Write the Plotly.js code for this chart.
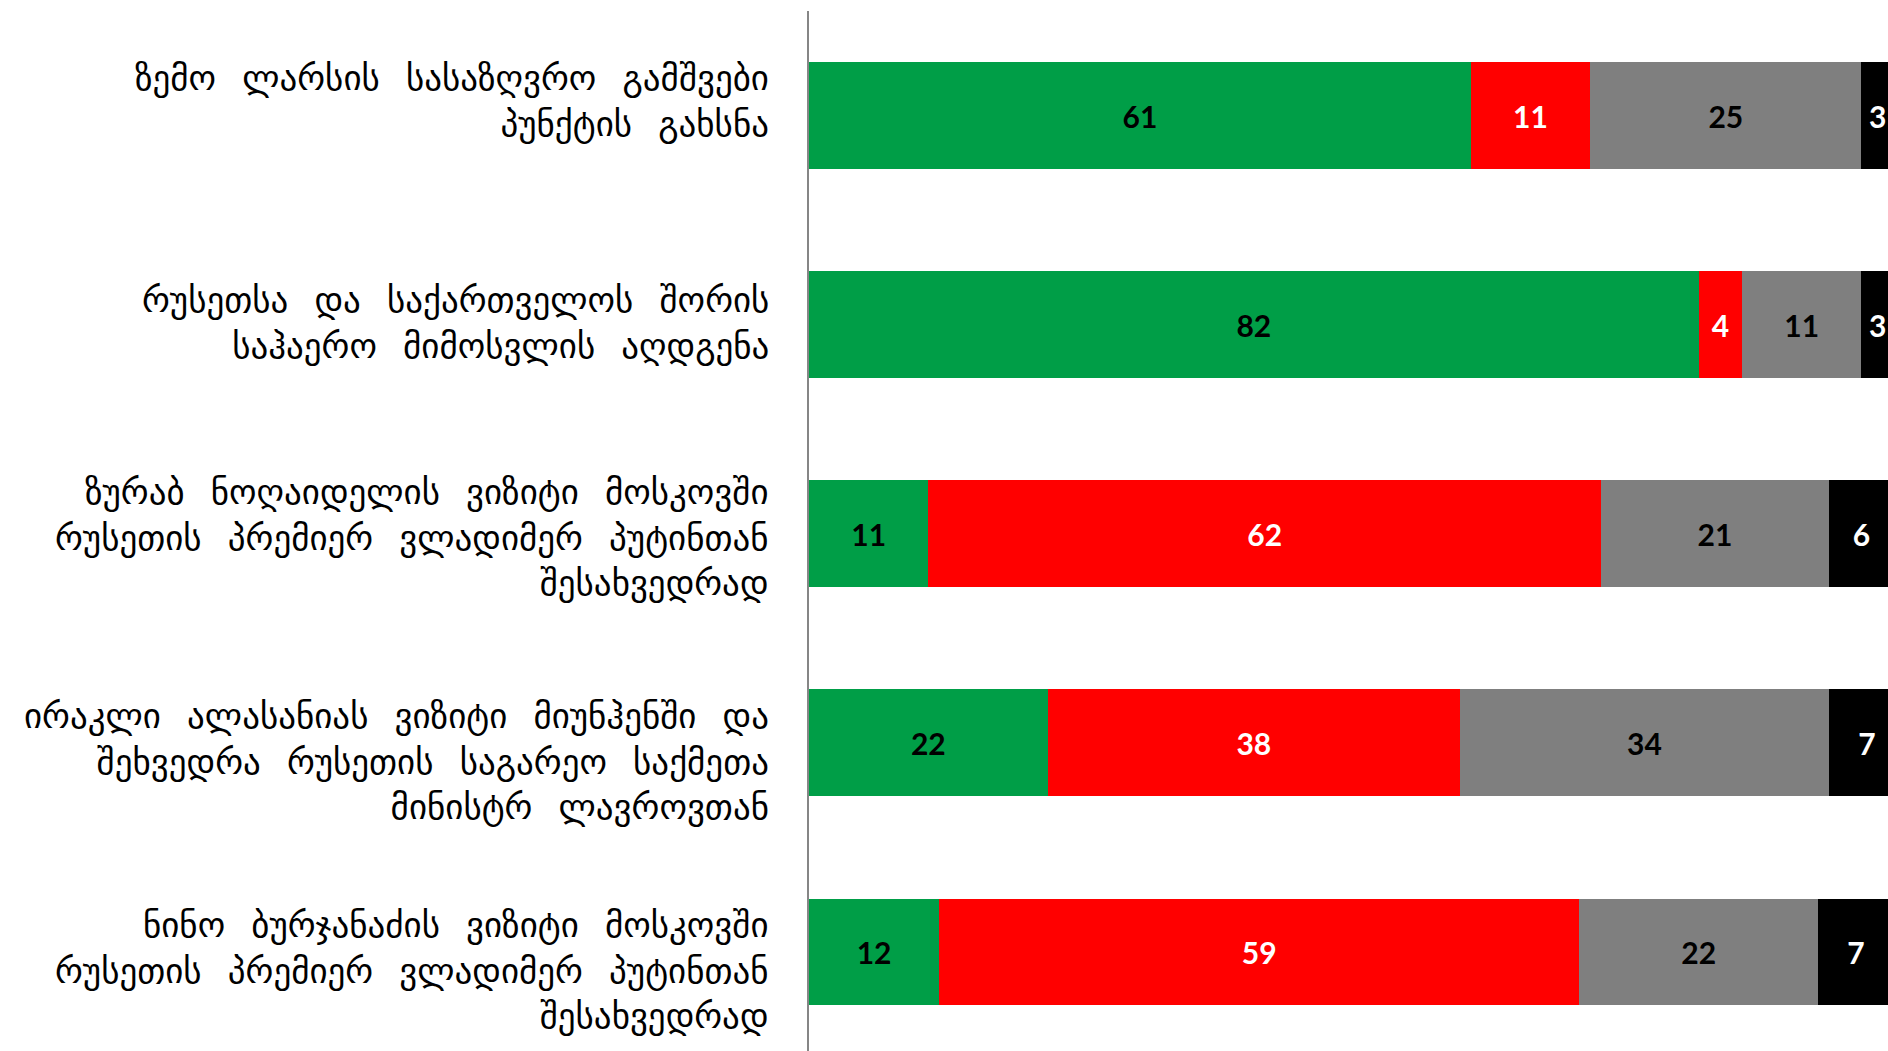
<!DOCTYPE html>
<html>
<head>
<meta charset="utf-8">
<script src="https://cdn.plot.ly/plotly-3.0.1.min.js"></script>
<style>
html,body{margin:0;padding:0;background:#fff;}
#chart{width:1888px;height:1051px;}
#chart .annotation-text{word-spacing:15px;}
</style>
</head>
<body>
<div id="chart"></div>
<script>
var categories = [
  "ზემო ლარსის სასაზღვრო გამშვები<br>პუნქტის გახსნა",
  "რუსეთსა და საქართველოს შორის<br>საჰაერო მიმოსვლის აღდგენა",
  "ზურაბ ნოღაიდელის ვიზიტი მოსკოვში<br>რუსეთის პრემიერ ვლადიმერ პუტინთან<br>შესახვედრად",
  "ირაკლი ალასანიას ვიზიტი მიუნჰენში და<br>შეხვედრა რუსეთის საგარეო საქმეთა<br>მინისტრ ლავროვთან",
  "ნინო ბურჯანაძის ვიზიტი მოსკოვში<br>რუსეთის პრემიერ ვლადიმერ პუტინთან<br>შესახვედრად"
];
var greenValues = [61, 82, 11, 22, 12];
var redValues   = [11, 4, 62, 38, 59];
var grayValues  = [25, 11, 21, 34, 22];
var blackValues = [3, 3, 6, 7, 7];

// label vertical nudges (px, layout only)
var labelShift = [15, 2, -4, -19, -19];

function mk(vals, color, txtColor) {
  return {
    type: 'bar', orientation: 'h',
    y: categories, x: vals,
    text: vals.map(String),
    textposition: 'inside',
    insidetextanchor: 'middle',
    textangle: 0,
    constraintext: 'none',
    textfont: {family: 'Lato, "Open Sans", sans-serif', size: 30, color: txtColor, weight: 'bold'},
    marker: {color: color, line: {width: 0}},
    hoverinfo: 'skip',
    cliponaxis: true
  };
}

var data = [
  mk(greenValues, '#009e47', '#000000'),
  mk(redValues, '#ff0000', '#ffffff'),
  mk(grayValues, '#7f7f7f', '#000000'),
  mk(blackValues, '#000000', '#ffffff')
];

var annotations = categories.map(function (c, i) {
  return {
    xref: 'paper', x: 0, xanchor: 'right', xshift: -38,
    yref: 'y', y: c, yanchor: 'middle', yshift: labelShift[i],
    text: c, align: 'right', showarrow: false,
    font: {family: '"DejaVu Sans", sans-serif', size: 35, color: '#000000'}
  };
});

var layout = {
  width: 1888, height: 1051,
  margin: {l: 809, r: 0, t: 11, b: 0, pad: 0},
  barmode: 'stack',
  bargap: 0.49,
  showlegend: false,
  paper_bgcolor: '#ffffff',
  plot_bgcolor: '#ffffff',
  annotations: annotations,
  xaxis: {
    range: [0, 99.45],
    showgrid: false, zeroline: false, showticklabels: false, showline: false, ticks: ''
  },
  yaxis: {
    type: 'category',
    range: [4.474, -0.5],
    showgrid: false, zeroline: false,
    showline: true, linecolor: '#868686', linewidth: 2,
    ticks: '', showticklabels: false
  }
};

Plotly.newPlot('chart', data, layout, {displayModeBar: false, staticPlot: true});
</script>
</body>
</html>
